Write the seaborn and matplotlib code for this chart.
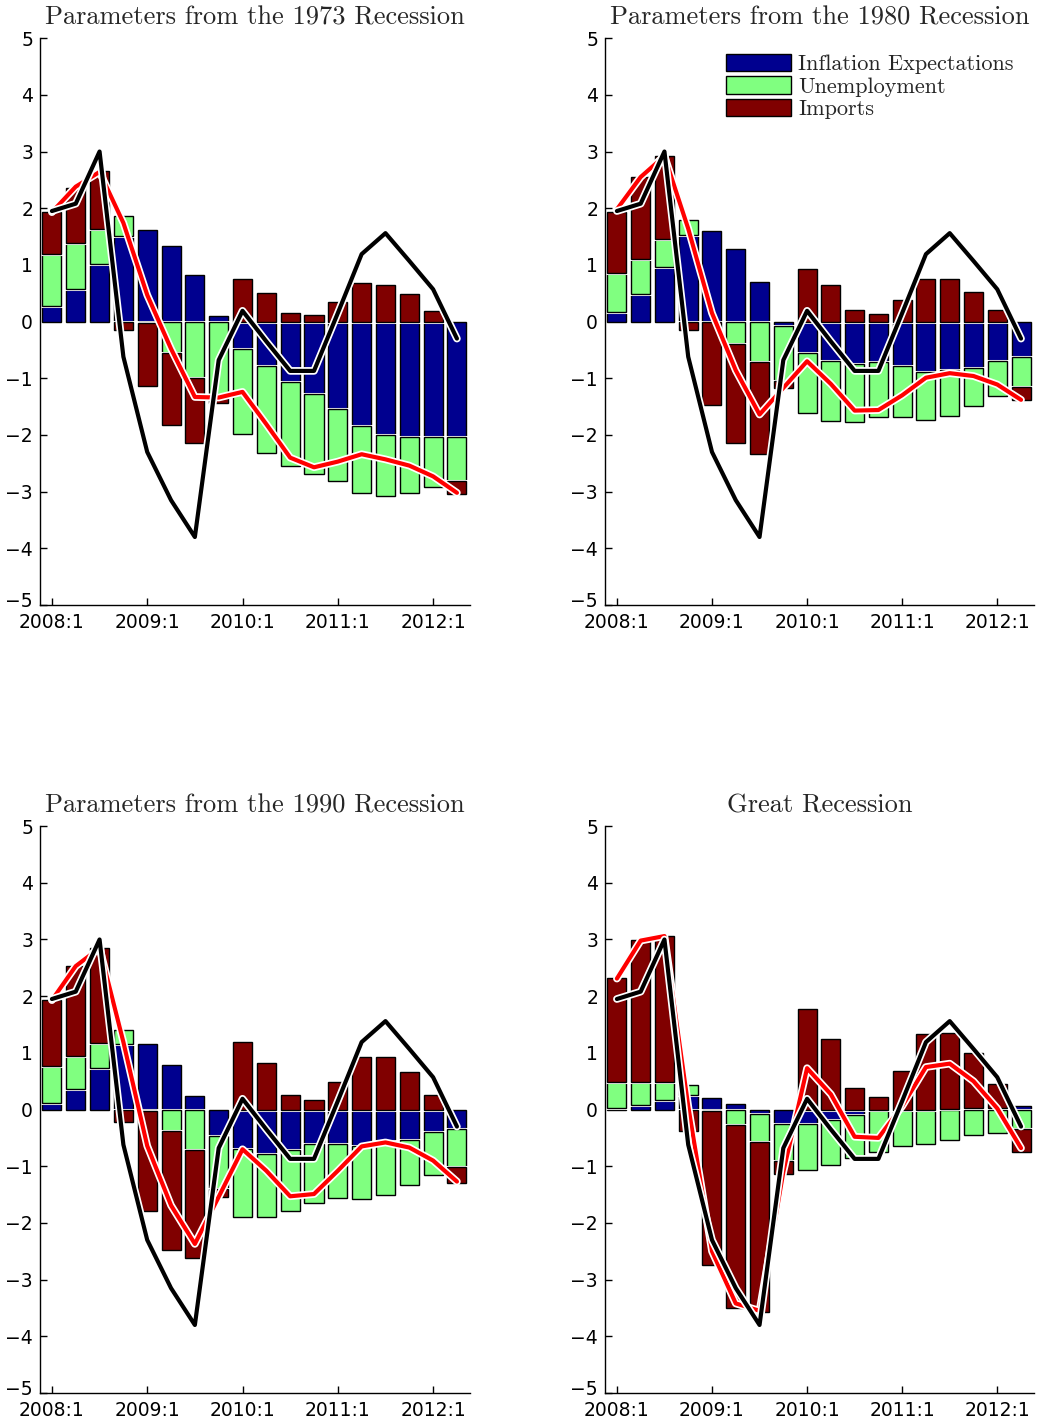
import numpy as np
import matplotlib
matplotlib.use('Agg')
import matplotlib.pyplot as plt
import matplotlib.patheffects as pe
import matplotlib.transforms as mtransforms
import seaborn as sns

# quarters 2008:1 .. 2012:2
quarters = list(range(1, 19))
tick_pos = [1, 5, 9, 13, 17]
tick_labels = ['2008:1', '2009:1', '2010:1', '2011:1', '2012:1']

# actual series (black line), same in every panel
actual = [1.95, 2.08, 3.0, -0.62, -2.3, -3.15, -3.8, -0.68, 0.19, -0.35,
          -0.87, -0.87, 0.15, 1.19, 1.56, 1.07, 0.57, -0.3]

# Parameters from the 1973 recession
infl_73 = [0.28, 0.58, 1.01, 1.51, 1.61, 1.34, 0.82, 0.09, -0.49, -0.79,
           -1.06, -1.28, -1.55, -1.84, -2.00, -2.04, -2.04, -2.04]
unemp_73 = [0.91, 0.80, 0.62, 0.36, -0.02, -0.55, -1.00, -1.35, -1.50, -1.53,
            -1.49, -1.40, -1.27, -1.18, -1.08, -0.98, -0.88, -0.77]
imports_73 = [0.75, 0.98, 1.02, -0.15, -1.12, -1.27, -1.15, -0.08, 0.75, 0.51,
              0.15, 0.11, 0.35, 0.68, 0.65, 0.48, 0.19, -0.23]
total_73 = [1.93, 2.38, 2.64, 1.74, 0.47, -0.48, -1.33, -1.34, -1.24, -1.81,
            -2.40, -2.57, -2.47, -2.34, -2.43, -2.54, -2.73, -3.02]

# Parameters from the 1980 recession
infl_80 = [0.17, 0.49, 0.96, 1.53, 1.60, 1.28, 0.69, -0.08, -0.56, -0.69,
           -0.74, -0.72, -0.79, -0.89, -0.85, -0.81, -0.69, -0.62]
unemp_80 = [0.68, 0.61, 0.49, 0.26, -0.01, -0.40, -0.71, -0.97, -1.06, -1.06,
            -1.03, -0.97, -0.89, -0.85, -0.81, -0.68, -0.62, -0.53]
imports_80 = [1.09, 1.45, 1.47, -0.15, -1.46, -1.74, -1.62, -0.12, 0.92, 0.65,
              0.20, 0.13, 0.38, 0.75, 0.75, 0.53, 0.20, -0.24]
total_80 = [1.98, 2.55, 2.92, 1.64, 0.15, -0.86, -1.64, -1.17, -0.70, -1.10,
            -1.57, -1.56, -1.30, -0.99, -0.91, -0.96, -1.11, -1.38]

# Parameters from the 1990 recession
infl_90 = [0.12, 0.37, 0.74, 1.16, 1.15, 0.79, 0.24, -0.46, -0.70, -0.79,
           -0.72, -0.60, -0.60, -0.65, -0.56, -0.53, -0.40, -0.34]
unemp_90 = [0.64, 0.57, 0.44, 0.25, -0.02, -0.37, -0.71, -0.94, -1.19, -1.10,
            -1.07, -1.05, -0.96, -0.93, -0.95, -0.80, -0.76, -0.67]
imports_90 = [1.17, 1.59, 1.67, -0.22, -1.77, -2.11, -1.90, -0.14, 1.19, 0.82,
              0.26, 0.16, 0.48, 0.93, 0.93, 0.66, 0.26, -0.28]
total_90 = [1.93, 2.53, 2.85, 1.19, -0.64, -1.69, -2.37, -1.54, -0.70, -1.08,
            -1.53, -1.49, -1.08, -0.65, -0.58, -0.67, -0.90, -1.27]

# Great Recession
infl_gr = [0.02, 0.08, 0.16, 0.25, 0.21, 0.09, -0.07, -0.25, -0.25, -0.19,
           -0.09, -0.01, -0.01, -0.01, 0.01, 0.02, 0.02, 0.06]
unemp_gr = [0.47, 0.41, 0.33, 0.19, -0.02, -0.28, -0.50, -0.66, -0.81, -0.79,
            -0.76, -0.73, -0.63, -0.59, -0.54, -0.45, -0.41, -0.35]
imports_gr = [1.83, 2.50, 2.58, -0.38, -2.73, -3.22, -3.00, -0.22, 1.78, 1.24,
              0.38, 0.22, 0.68, 1.34, 1.34, 0.97, 0.43, -0.40]
total_gr = [2.31, 2.98, 3.06, 0.06, -2.50, -3.42, -3.55, -1.10, 0.73, 0.27,
            -0.48, -0.50, 0.06, 0.75, 0.81, 0.50, 0.02, -0.68]

titles = ['Parameters from the 1973 Recession', 'Parameters from the 1980 Recession',
          'Parameters from the 1990 Recession', 'Great Recession']
series_names = ['Inflation Expectations', 'Unemployment', 'Imports']
colors = ['#00008F', '#80FF80', '#800000']

panels = [
    (infl_73, unemp_73, imports_73, total_73),
    (infl_80, unemp_80, imports_80, total_80),
    (infl_90, unemp_90, imports_90, total_90),
    (infl_gr, unemp_gr, imports_gr, total_gr),
]

sns.set_style('ticks')
plt.rcParams['font.family'] = ['DejaVu Sans']
plt.rcParams['axes.unicode_minus'] = True

fig = plt.figure(figsize=(10.39, 14.28), dpi=100)
positions = [
    [0.0385, 0.5763, 0.4139, 0.397],
    [0.5823, 0.5763, 0.4130, 0.397],
    [0.0385, 0.0245, 0.4139, 0.397],
    [0.5823, 0.0245, 0.4130, 0.397],
]

halo = [pe.Stroke(linewidth=5.5, foreground='white'), pe.Normal()]
bar_halo = [pe.Stroke(linewidth=2.2, foreground='white'), pe.Normal()]

x = np.array(quarters)
for k, (pos, (infl, unemp, imp, total)) in enumerate(zip(positions, panels)):
    ax = fig.add_axes(pos)
    pos_base = np.zeros(len(x))
    neg_base = np.zeros(len(x))
    handles = []
    for vals, col in zip([infl, unemp, imp], colors):
        v = np.array(vals)
        base = np.where(v >= 0, pos_base, neg_base)
        bars = ax.bar(x, v, bottom=base, width=0.8, color=col, edgecolor='black',
                      linewidth=1.0, label='_nolegend_', zorder=2)
        for b in bars:
            b.set_path_effects(bar_halo)
        handles.append(bars[0])
        pos_base = pos_base + np.where(v >= 0, v, 0)
        neg_base = neg_base + np.where(v < 0, v, 0)

    sns.lineplot(x=quarters, y=total, ax=ax, color='red', linewidth=3.0,
                 zorder=3, path_effects=halo, legend=False)
    sns.lineplot(x=quarters, y=actual, ax=ax, color='black', linewidth=3.0,
                 zorder=4, path_effects=halo, legend=False)
    if ax.get_legend() is not None:
        ax.get_legend().remove()

    ax.set_xlim(0.5, 18.55)
    ax.set_ylim(-5, 5)
    ax.set_yticks(range(-5, 6))
    ax.set_xticks(tick_pos)
    ax.set_xticklabels(tick_labels)
    ax.tick_params(direction='in', length=5, width=1, labelsize=13.5,
                   colors='black')
    ax.tick_params(axis='x', pad=6)
    ax.tick_params(axis='y', pad=5)
    # nudge the bottom y label up a little so it clears the date labels
    lab = ax.get_yticklabels()[0]
    lab.set_transform(lab.get_transform() +
                      mtransforms.ScaledTranslation(0, 4 / 72, fig.dpi_scale_trans))
    for s in ['top', 'right']:
        ax.spines[s].set_visible(False)
    for s in ['left', 'bottom']:
        ax.spines[s].set_linewidth(1.0)
        ax.spines[s].set_color('black')
    ax.set_title(titles[k], family='cmr10', fontsize=19, pad=9.5)

    if k == 1:
        ax.legend(handles=handles, labels=series_names, loc='upper left',
                  bbox_to_anchor=(0.245, 1.0), frameon=False,
                  prop={'family': 'cmr10', 'size': 16},
                  handlelength=2.95, handleheight=0.82, labelspacing=0.1,
                  handletextpad=0.3, borderpad=0.2)

fig.savefig('out.png', dpi=100)
